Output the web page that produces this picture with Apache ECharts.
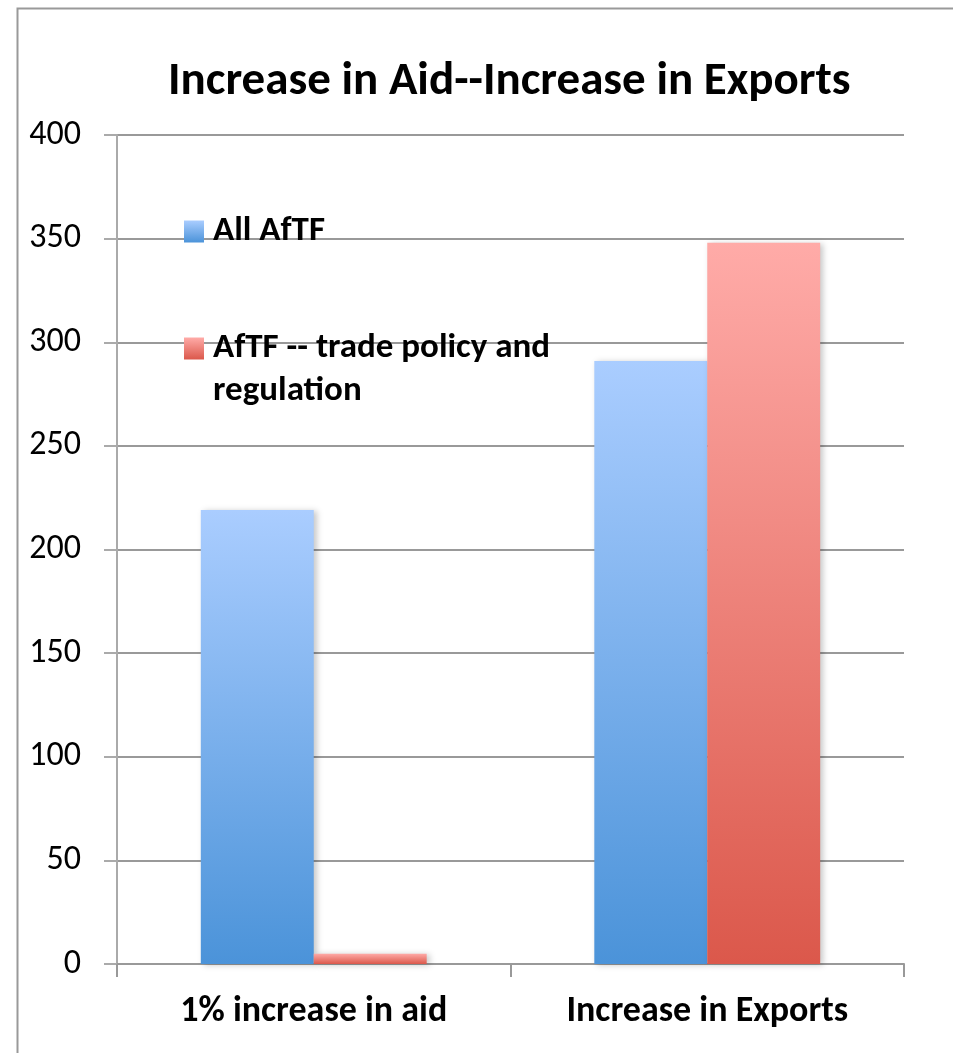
<!DOCTYPE html>
<html>
<head>
<meta charset="utf-8">
<title>Increase in Aid--Increase in Exports</title>
<script src="https://cdn.jsdelivr.net/npm/echarts@6/dist/echarts.min.js"></script>
<style>
  html, body { margin: 0; padding: 0; background: #ffffff; }
  #chart { width: 953px; height: 1053px; }
</style>
</head>
<body>
<div id="chart"></div>
<script>
// Chart data
const categories = ['1% increase in aid', 'Increase in Exports'];
const seriesNames = ['All AfTF', 'AfTF -- trade policy and\nregulation'];
const allAftf = [219, 291];
const tradePolicy = [5, 348];
const yTicks = [0, 50, 100, 150, 200, 250, 300, 350, 400];

const FONT = "Carlito, 'Liberation Sans Narrow', 'Open Sans', sans-serif";

function grad(top, bottom) {
  return new echarts.graphic.LinearGradient(0, 0, 0, 1, [
    { offset: 0, color: top },
    { offset: 1, color: bottom }
  ]);
}

const chart = echarts.init(document.getElementById('chart'), null, { renderer: 'canvas' });

const legendText = { fontFamily: FONT, fontWeight: 'bold', fontSize: 35, lineHeight: 43, color: '#000000', padding: [8, 0, 0, 4] };

const option = {
  backgroundColor: '#ffffff',
  animation: false,
  graphic: [{
    type: 'rect',
    left: 15, top: 6,
    shape: { width: 1000, height: 1100 },
    style: { fill: 'none', stroke: '#999999', lineWidth: 2 },
    silent: true, z: -10
  }],
  title: {
    text: 'Increase in Aid--Increase in Exports',
    left: 163,
    top: 54,
    textStyle: { fontFamily: FONT, fontWeight: 'bold', fontSize: 47, color: '#000000' }
  },
  legend: [{
    orient: 'vertical',
    left: 184, top: 206, padding: 0,
    itemWidth: 20, itemHeight: 22,
    icon: 'rect',
    data: [seriesNames[0]],
    textStyle: legendText
  }, {
    // a blank first line keeps the swatch level with the first text line
    orient: 'vertical',
    left: 184, top: 280, padding: 0,
    itemWidth: 20, itemHeight: 22,
    icon: 'rect',
    data: [seriesNames[1]],
    formatter: function (name) { return '\n' + name; },
    textStyle: legendText
  }],
  grid: { left: 117, right: 49, top: 135, bottom: 89, containLabel: false },
  xAxis: {
    type: 'category',
    data: categories,
    axisLine: { lineStyle: { color: '#999999', width: 2 } },
    axisTick: { show: true, length: 13, lineStyle: { color: '#999999', width: 2 } },
    axisLabel: { fontFamily: FONT, fontWeight: 'bold', fontSize: 36, color: '#000000', margin: 30 }
  },
  yAxis: {
    type: 'value',
    min: yTicks[0], max: yTicks[yTicks.length - 1], interval: yTicks[1] - yTicks[0],
    axisLine: { show: true, lineStyle: { color: '#aaaaaa', width: 2 } },
    axisTick: { show: true, length: 13, lineStyle: { color: '#aaaaaa', width: 2 } },
    axisLabel: { fontFamily: FONT, fontSize: 34, color: '#000000', margin: 36 },
    splitLine: { lineStyle: { color: '#999999', width: 2 } }
  },
  series: [{
    name: seriesNames[0],
    type: 'bar',
    data: allAftf,
    barGap: '0%',
    barCategoryGap: '42.6%',
    itemStyle: {
      color: grad('#aacdff', '#4b93d9'),
      shadowBlur: 6, shadowOffsetX: 3, shadowOffsetY: 1, shadowColor: 'rgba(0,0,0,0.22)'
    }
  }, {
    name: seriesNames[1],
    type: 'bar',
    data: tradePolicy,
    barGap: '0%',
    barCategoryGap: '42.6%',
    itemStyle: {
      color: grad('#ffaba8', '#db584b'),
      shadowBlur: 6, shadowOffsetX: 3, shadowOffsetY: 1, shadowColor: 'rgba(0,0,0,0.22)'
    }
  }]
};

chart.setOption(option);
</script>
</body>
</html>
